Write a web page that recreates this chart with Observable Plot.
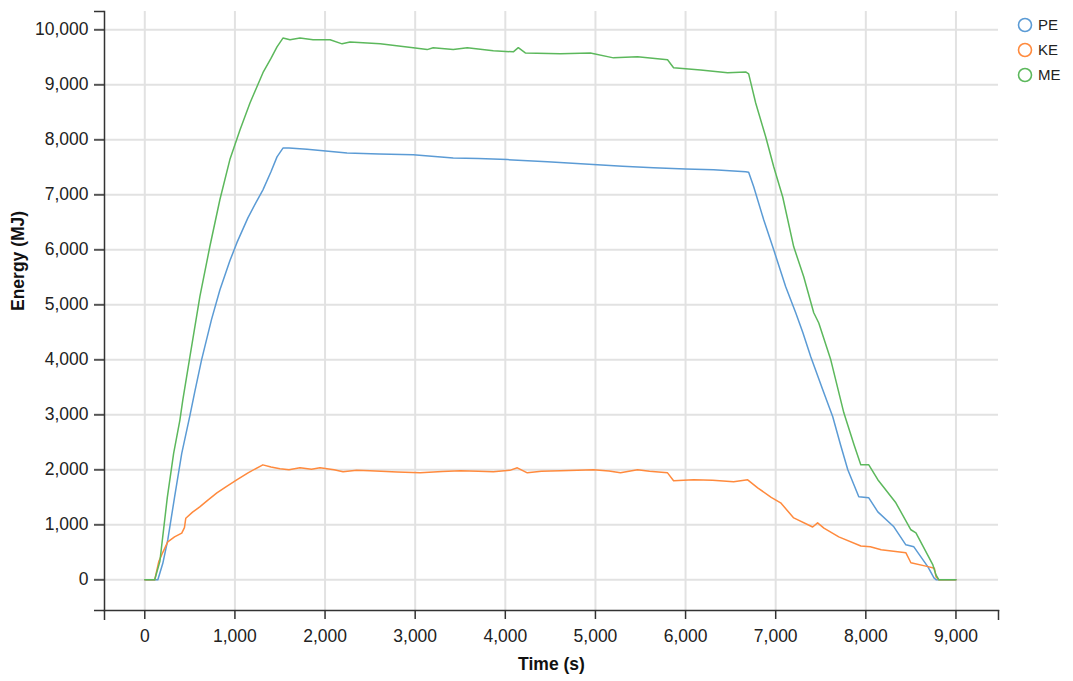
<!DOCTYPE html>
<html>
<head>
<meta charset="utf-8">
<script src="https://cdn.jsdelivr.net/npm/d3@7"></script>
<script src="https://cdn.jsdelivr.net/npm/@observablehq/plot@0.6"></script>
<style>
  body { margin: 0; background: #fff; font-family: "Liberation Sans", Arial, sans-serif; }
  #wrap { position: relative; width: 1073px; height: 681px; }
  #legend { position: absolute; left: 1016px; top: 12px; font-size: 15px; color: #222; }
  #legend .row { display: flex; align-items: center; height: 25px; }
  #legend svg { margin-right: 4px; }
</style>
</head>
<body>
<div id="wrap"><div id="legend"></div></div>
<script>
// ---- data ----
const seriesNames = ["PE", "KE", "ME"];
const seriesColors = ["#5b9bd5", "#ff8a3d", "#5cb85c"];
const xTicks = [0, 1000, 2000, 3000, 4000, 5000, 6000, 7000, 8000, 9000];
const yTicks = [0, 1000, 2000, 3000, 4000, 5000, 6000, 7000, 8000, 9000, 10000];
const xDomain = [-447, 9472];
const yDomain = [-558, 10333];

// PE: [time (s), energy (MJ)]
const pe = [
  [0,0],[145,0],[200,300],[255,725],[330,1500],[410,2300],[500,2980],[555,3420],[630,4000],
  [740,4730],[833,5270],[944,5800],[1022,6130],[1144,6580],[1230,6850],[1311,7090],[1400,7420],
  [1467,7690],[1533,7850],[1600,7850],[1800,7830],[1978,7800],[2244,7760],[2600,7740],[2978,7730],
  [3422,7670],[3700,7660],[4022,7640],[4467,7600],[5022,7545],[5300,7520],[5644,7490],[6000,7470],
  [6311,7455],[6667,7420],[6700,7410],[6756,7145],[6867,6545],[6978,6000],[7111,5330],[7222,4855],
  [7300,4500],[7389,4055],[7522,3455],[7633,2964],[7720,2450],[7800,2000],[7922,1510],[8033,1490],
  [8133,1236],[8311,964],[8444,636],[8533,600],[8689,236],[8756,36],[8780,0],[9000,0]
];
// KE
const ke = [
  [0,0],[110,0],[155,330],[200,500],[255,690],[330,780],[410,850],[440,950],[455,1120],[530,1230],
  [610,1325],[700,1450],[800,1580],[900,1690],[1020,1815],[1150,1950],[1310,2090],[1400,2050],
  [1500,2018],[1600,2000],[1722,2036],[1850,2010],[1944,2036],[2100,2000],[2200,1964],[2350,1990],
  [2500,1982],[2800,1960],[3056,1945],[3300,1970],[3500,1982],[3700,1975],[3867,1964],[4050,1990],
  [4133,2036],[4244,1945],[4400,1975],[4611,1982],[4800,1990],[4978,2000],[5150,1980],[5278,1945],
  [5467,2000],[5600,1975],[5800,1945],[5867,1800],[6089,1818],[6300,1810],[6533,1782],[6689,1818],
  [6800,1673],[6950,1500],[7055,1400],[7200,1125],[7410,960],[7465,1035],[7535,940],[7700,780],
  [7945,615],[8050,600],[8170,545],[8445,490],[8500,310],[8690,240],[8760,210],[8780,50],[8810,0],[9000,0]
];
// ME
const me = [
  [0,0],[110,0],[167,330],[250,1500],[320,2300],[389,2900],[422,3270],[500,4050],[611,5150],
  [722,6060],[833,6910],[944,7640],[1056,8180],[1167,8670],[1311,9220],[1400,9480],[1467,9690],
  [1533,9850],[1611,9820],[1722,9850],[1867,9820],[2056,9820],[2189,9745],[2278,9780],[2611,9745],
  [2978,9675],[3133,9640],[3200,9675],[3422,9640],[3578,9675],[3867,9620],[4089,9600],[4144,9675],
  [4222,9580],[4611,9565],[4944,9580],[5200,9490],[5467,9510],[5800,9455],[5867,9310],[6167,9270],
  [6467,9220],[6667,9235],[6700,9200],[6778,8670],[6889,8055],[6978,7510],[7078,6960],[7200,6055],
  [7311,5510],[7422,4855],[7478,4670],[7611,4000],[7756,3036],[7870,2450],[7944,2090],[8033,2090],
  [8133,1820],[8333,1400],[8500,910],[8556,855],[8744,270],[8778,90],[8811,0],[9000,0]
];

// ---- build table ----
const raw = [pe, ke, me];
const rows = [];
raw.forEach((s, i) => s.forEach(([t, v]) => rows.push({series: seriesNames[i], t, v})));

const fmt = d3.format(",");
const axisStroke = "#333";

const chart = Plot.plot({
  width: 1073,
  height: 681,
  marginLeft: 104,
  marginRight: 75,
  marginTop: 11,
  marginBottom: 71,
  style: {fontFamily: "'Liberation Sans', Arial, sans-serif", fontSize: "17.5px", color: "#222", background: "#fff"},
  x: {domain: xDomain},
  y: {domain: yDomain},
  color: {domain: seriesNames, range: seriesColors},
  marks: [
    Plot.gridX({ticks: xTicks, stroke: "#e2e2e2", strokeOpacity: 1, strokeWidth: 2}),
    Plot.gridY({ticks: yTicks, stroke: "#e2e2e2", strokeOpacity: 1, strokeWidth: 2}),
    Plot.line(rows, {x: "t", y: "v", z: "series", stroke: "series", strokeWidth: 1.5}),
    Plot.axisX({ticks: xTicks, tickFormat: fmt, tickSize: 9, tickPadding: 10, label: null, stroke: axisStroke, strokeWidth: 1.5, fontSize: 17.5}),
    Plot.axisX({ticks: xDomain, tickFormat: () => "", tickSize: 10, label: null, stroke: axisStroke, strokeWidth: 1.5}),
    Plot.axisY({ticks: yTicks, tickFormat: fmt, tickSize: 10, tickPadding: 6, label: null, stroke: "#555", strokeWidth: 2, fontSize: 17.5}),
    Plot.axisY({ticks: yDomain, tickFormat: () => "", tickSize: 10, label: null, stroke: axisStroke, strokeWidth: 1.5}),
    Plot.frame({anchor: "left", stroke: axisStroke, strokeWidth: 1.5}),
    Plot.frame({anchor: "bottom", stroke: axisStroke, strokeWidth: 1.5}),
    Plot.text(["Energy (MJ)"], {frameAnchor: "left", dx: -86, rotate: -90, fontWeight: "bold", fontSize: 17.5, fill: "#111"}),
    Plot.text(["Time (s)"], {frameAnchor: "bottom", dy: 59, fontWeight: "bold", fontSize: 17.5, fill: "#111"})
  ]
});

const wrap = document.getElementById("wrap");
wrap.insertBefore(chart, wrap.firstChild);

// legend
const legend = document.getElementById("legend");
seriesNames.forEach((name, i) => {
  const row = document.createElement("div");
  row.className = "row";
  row.innerHTML = `<svg width="18" height="18"><circle cx="9" cy="9" r="6.5" fill="none" stroke="${seriesColors[i]}" stroke-width="1.6"></circle></svg><span>${name}</span>`;
  legend.appendChild(row);
});
</script>
</body>
</html>
